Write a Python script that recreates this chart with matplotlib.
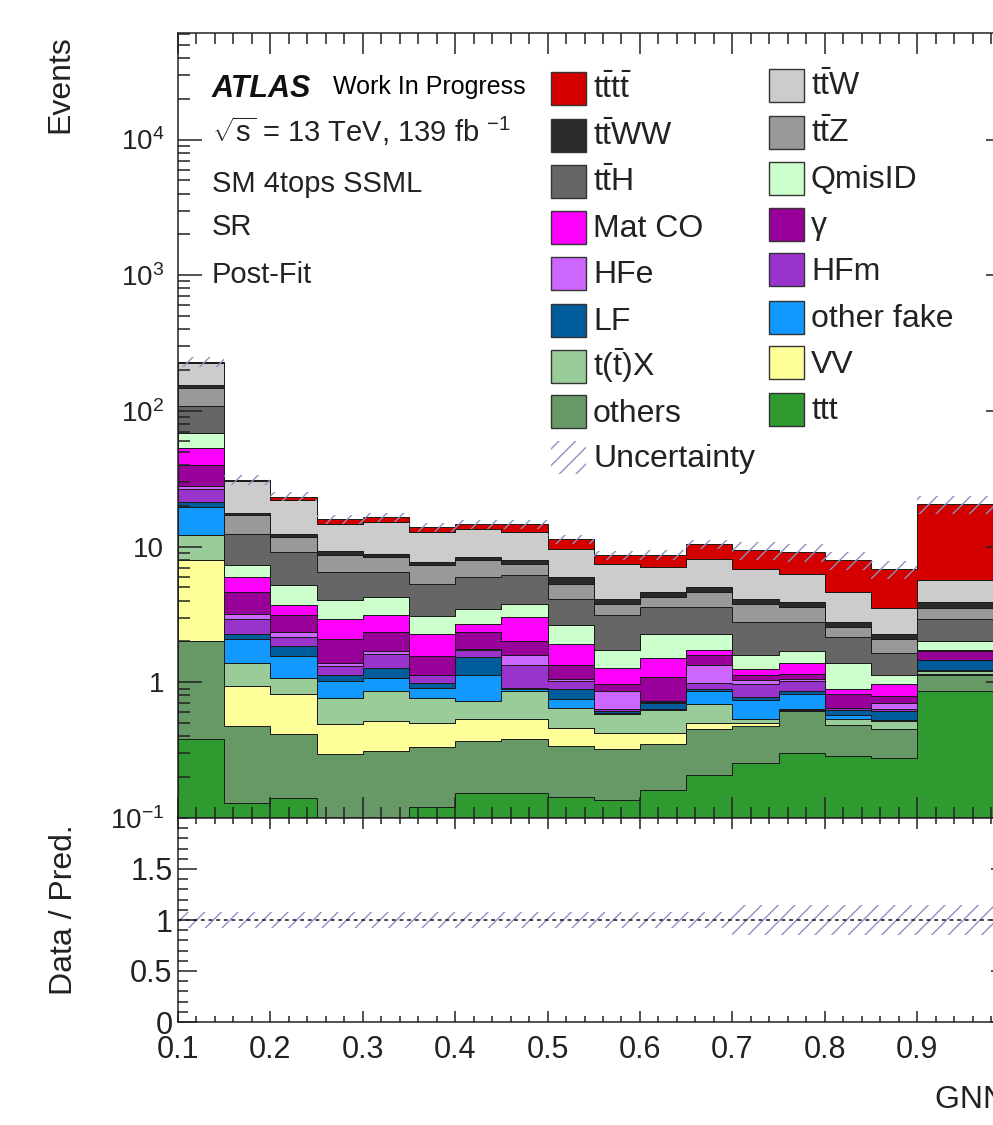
import matplotlib
matplotlib.use('Agg')
import matplotlib.pyplot as plt
import numpy as np
from matplotlib.patches import Rectangle
from matplotlib.ticker import FixedLocator, MultipleLocator, NullFormatter, FuncFormatter, LogLocator

plt.rcParams['font.family'] = ['Liberation Sans', 'DejaVu Sans']
plt.rcParams['mathtext.fontset'] = 'custom'
plt.rcParams['mathtext.rm'] = 'Liberation Sans'
plt.rcParams['mathtext.it'] = 'Liberation Sans:italic'
plt.rcParams['mathtext.bf'] = 'Liberation Sans:bold'
plt.rcParams['hatch.linewidth'] = 1.0

# bin edges of the GNN score
edges = [0.10, 0.15, 0.20, 0.25, 0.30, 0.35, 0.40, 0.45, 0.50, 0.55,
         0.60, 0.65, 0.70, 0.75, 0.80, 0.85, 0.90, 1.00]

# post-fit yields per bin (stack order bottom -> top)
ttt    = [0.38, 0.128, 0.139, 0.08, 0.08, 0.12, 0.152, 0.152, 0.141, 0.134, 0.159, 0.205, 0.255, 0.30, 0.287, 0.277, 0.86]
others = [1.62, 0.348, 0.277, 0.217, 0.232, 0.21, 0.218, 0.228, 0.20, 0.186, 0.19, 0.245, 0.22, 0.31, 0.20, 0.173, 0.28]
vv     = [6.0, 0.459, 0.404, 0.193, 0.206, 0.17, 0.166, 0.156, 0.12, 0.10, 0.07, 0.05, 0.025, 0.01, 0.0, 0.0, 0.02]
ttx    = [4.1, 0.445, 0.25, 0.27, 0.34, 0.26, 0.19, 0.324, 0.185, 0.16, 0.21, 0.19, 0.036, 0.01, 0.046, 0.068, 0.06]
ofake  = [7.4, 0.69, 0.48, 0.26, 0.21, 0.14, 0.41, 0.03, 0.105, 0.01, 0.005, 0.17, 0.21, 0.186, 0.044, 0.012, 0.02]
lf     = [1.7, 0.21, 0.29, 0.12, 0.20, 0.08, 0.41, 0.01, 0.14, 0.02, 0.07, 0.03, 0.03, 0.044, 0.05, 0.08, 0.21]
hfm    = [5.3, 0.66, 0.33, 0.17, 0.36, 0.15, 0.17, 0.45, 0.13, 0.02, 0.01, 0.09, 0.19, 0.16, 0.015, 0.02, 0.01]
hfe    = [1.7, 0.26, 0.19, 0.07, 0.06, 0.01, 0.03, 0.25, 0.03, 0.23, 0.016, 0.37, 0.08, 0.03, 0.005, 0.07, 0.01]
gamma  = [11.8, 1.44, 0.79, 0.72, 0.67, 0.41, 0.59, 0.40, 0.30, 0.11, 0.37, 0.25, 0.09, 0.11, 0.166, 0.09, 0.22]
matco  = [13.5, 1.33, 0.57, 0.84, 0.79, 0.73, 0.34, 1.04, 0.58, 0.30, 0.40, 0.14, 0.11, 0.22, 0.084, 0.18, 0.05]
qmisid = [15.5, 1.33, 1.48, 1.12, 1.12, 0.82, 0.80, 0.76, 0.73, 0.47, 0.75, 0.54, 0.35, 0.31, 0.48, 0.17, 0.26]
tth    = [40.0, 5.0, 3.92, 2.44, 2.23, 2.2, 2.5, 2.4, 1.46, 1.41, 1.35, 1.32, 1.2, 1.11, 0.79, 0.49, 0.94]
ttz    = [39.0, 4.7, 2.58, 2.16, 1.9, 2.0, 1.95, 1.25, 1.18, 0.65, 0.67, 1.04, 1.0, 0.8, 0.4, 0.47, 0.56]
ttww   = [7.0, 0.6, 0.6, 0.64, 0.4, 0.4, 0.45, 0.5, 0.7, 0.32, 0.37, 0.41, 0.32, 0.32, 0.23, 0.18, 0.42]
ttw    = [71.0, 12.7, 9.9, 5.3, 6.3, 5.1, 5.1, 4.85, 3.6, 3.28, 2.43, 3.05, 2.7, 2.36, 1.84, 1.22, 1.76]
tttt   = [5.0, 0.7, 1.2, 1.3, 1.3, 1.1, 1.1, 1.8, 1.7, 1.26, 1.6, 2.3, 2.6, 2.84, 3.31, 3.3, 14.8]

# relative uncertainty of the total prediction
rel_unc = [0.08, 0.08, 0.08, 0.08, 0.08, 0.08, 0.08, 0.08, 0.08, 0.08, 0.08, 0.08,
           0.15, 0.15, 0.15, 0.15, 0.15]

tbar = r'$\mathrm{t\bar{t}'
stack = [
    ('ttt', ttt, '#2f9a2f'),
    ('others', others, '#669966'),
    ('VV', vv, '#ffff99'),
    (r'$\mathrm{t(\bar{t})X}$', ttx, '#99cc99'),
    ('other fake', ofake, '#1199ff'),
    ('LF', lf, '#005c9a'),
    ('HFm', hfm, '#9933cc'),
    ('HFe', hfe, '#cc66ff'),
    ('γ', gamma, '#990099'),
    ('Mat CO', matco, '#ff00ff'),
    ('QmisID', qmisid, '#ccffcc'),
    (tbar + r'H}$', tth, '#666666'),
    (tbar + r'Z}$', ttz, '#999999'),
    (tbar + r'WW}$', ttww, '#2a2a2a'),
    (tbar + r'W}$', ttw, '#cccccc'),
    (tbar + r't\bar{t}}$', tttt, '#d40000'),
]
hatch_col = '#8c92c0'

W, H = 993, 1125
def fx(px):
    return px / W
def fy(py):
    return 1 - py / H

fig = plt.figure(figsize=(W / 100, H / 100), dpi=100)
ax = fig.add_axes([fx(178), fy(818), (1009.5 - 178) / W, (818 - 33) / H])
rax = fig.add_axes([fx(178), fy(1022), (1009.5 - 178) / W, (1022 - 818) / H], sharex=ax)

bottom = np.full(len(ttt), 1e-3)
for label, vals, col in stack:
    top = bottom + np.array(vals)
    ax.stairs(top, edges, baseline=bottom, fill=True, facecolor=col,
              edgecolor='#1a1a1a', linewidth=0.7)
    bottom = top
total = bottom
unc = np.array(rel_unc)
ax.stairs(total * (1 + unc), edges, baseline=total * (1 - unc), fill=True,
          facecolor='none', edgecolor=hatch_col, hatch='//', linewidth=0)

ax.set_yscale('log')
ax.set_xlim(0.1, 1.0)
ax.set_ylim(0.1, 6.1e4)
ax.yaxis.set_major_locator(FixedLocator([0.1, 1, 10, 100, 1e3, 1e4]))
ax.yaxis.set_minor_locator(LogLocator(base=10, subs=np.arange(2, 10), numticks=20))
ax.yaxis.set_minor_formatter(NullFormatter())

def log_fmt(v, pos):
    e = int(round(np.log10(v)))
    if e == 0:
        return '1'
    if e == 1:
        return '10'
    return r'$10^{%d}$' % e
ax.yaxis.set_major_formatter(FuncFormatter(log_fmt))

ax.xaxis.set_major_locator(MultipleLocator(0.1))
ax.xaxis.set_minor_locator(MultipleLocator(0.02))
ax.tick_params(axis='both', which='both', direction='in', top=True, right=True,
               labelbottom=False, colors='#222222', width=1.1)
ax.tick_params(axis='y', which='major', length=17, labelsize=20, pad=10)
ax.tick_params(axis='y', which='minor', length=8.5)
ax.tick_params(axis='x', which='major', length=15)
ax.tick_params(axis='x', which='minor', length=8)

# ratio panel
rax.stairs(1 + unc, edges, baseline=1 - unc, fill=True, facecolor='none',
           edgecolor=hatch_col, hatch='//', linewidth=0)
rax.axhline(1.0, color='#111133', linestyle=(0, (2.5, 2.5)), linewidth=1.1)
rax.set_ylim(0, 2)
rax.set_xlim(0.1, 1.0)
rax.yaxis.set_major_locator(FixedLocator([0, 0.5, 1, 1.5]))
rax.yaxis.set_major_formatter(FuncFormatter(lambda v, p: '%g' % v))
rax.yaxis.set_minor_locator(MultipleLocator(0.1))
rax.xaxis.set_major_locator(FixedLocator([0.1, 0.2, 0.3, 0.4, 0.5, 0.6, 0.7, 0.8, 0.9]))
rax.xaxis.set_minor_locator(MultipleLocator(0.02))
rax.xaxis.set_major_formatter(FuncFormatter(lambda v, p: '%.1f' % v))
rax.tick_params(axis='both', which='both', direction='in', top=True, right=True,
                colors='#222222', width=1.1)
rax.tick_params(axis='y', which='major', length=14, labelsize=22, pad=4)
rax.tick_params(axis='y', which='minor', length=7)
rax.tick_params(axis='x', which='major', length=8, labelsize=22, pad=9)
rax.tick_params(axis='x', which='minor', length=4)

for a in (ax, rax):
    for s in a.spines.values():
        s.set_linewidth(1.1)
        s.set_color('#222222')

# axis titles
fig.text(fx(60), fy(35), 'Events', rotation=90, ha='center', va='top', size=23, color='#222222')
fig.text(fx(64), fy(910), 'Data / Pred.', rotation=90, ha='center', va='center', size=23, color='#222222')
fig.text(fx(935), fy(1100), 'GNN score', ha='left', va='center', size=23, color='#222222')

# ATLAS labels
fig.text(fx(212), fy(97), 'ATLAS', weight='bold', style='italic', size=22, va='baseline', color='#111111')
fig.text(fx(333), fy(94), 'Work In Progress', size=18, va='baseline', color='black')
fig.text(fx(212), fy(142), r'$\sqrt{\mathrm{s}}$ = 13 TeV, 139 fb $^{-1}$', size=21, va='baseline', color='#222222')
fig.text(fx(212), fy(192), 'SM 4tops SSML', size=21, va='baseline', color='#222222')
fig.text(fx(212), fy(235), 'SR', size=21, va='baseline', color='#222222')
fig.text(fx(212), fy(283), 'Post-Fit', size=21, va='baseline', color='#222222')

# legend, two columns (reverse of stack, read row-wise)
legend_items = stack[::-1]
col1 = legend_items[0::2]
col2 = legend_items[1::2]
rows = [88, 135, 181, 227, 273, 320, 366, 412, 457]
for items, x0, dy in ((col1, 551, 0), (col2, 769, -3)):
    for (label, vals, col), yc in zip(items, rows):
        yc = yc + dy
        fig.patches.append(Rectangle((fx(x0), fy(yc + 16.5)), 35 / W, 33 / H,
                                     transform=fig.transFigure, facecolor=col,
                                     edgecolor='#333333', linewidth=1.0))
        fig.text(fx(x0 + 42), fy(yc + 10), label, size=23, va='baseline', color='#222222')
fig.patches.append(Rectangle((fx(551), fy(rows[-1] + 16.5)), 35 / W, 33 / H,
                             transform=fig.transFigure, facecolor='none',
                             edgecolor=hatch_col, hatch='//', linewidth=0))
fig.text(fx(593), fy(rows[-1] + 10), 'Uncertainty', size=23, va='baseline', color='#222222')

fig.savefig('out.png', dpi=100)
